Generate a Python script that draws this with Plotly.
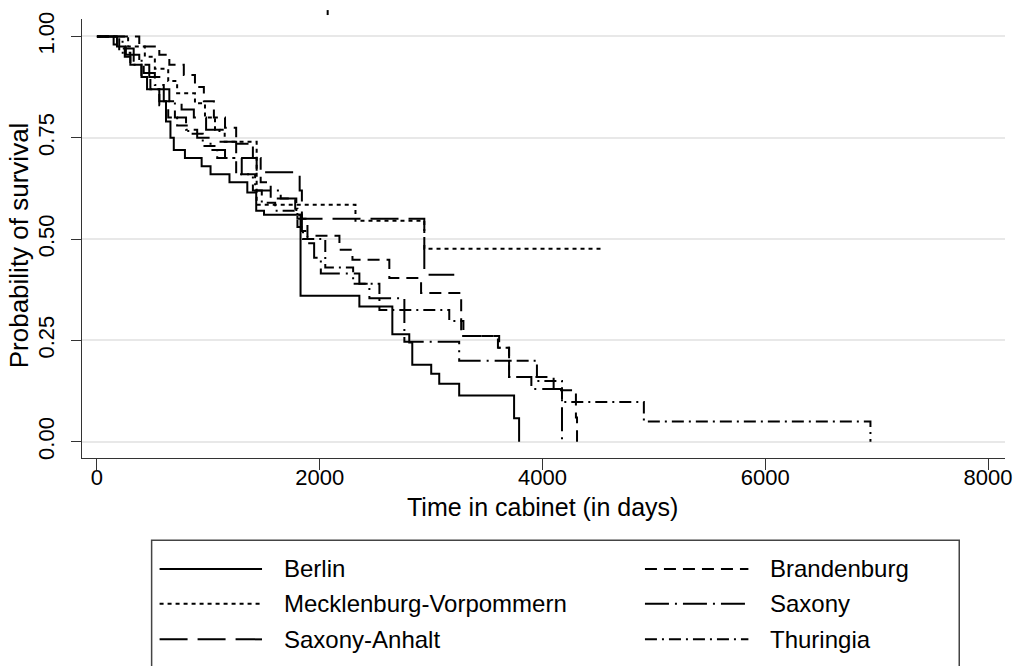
import plotly.graph_objects as go

# ---------------- data (Kaplan-Meier step estimates) ----------------
berlin_t = [0, 180, 250, 300, 400, 450, 560, 620, 660, 690, 790, 940, 1020, 1190, 1350, 1430, 1500,
            1828, 2356, 2652, 2804, 2831, 3001, 3073, 3252, 3745, 3790]
berlin_s = [1.0, 0.975, 0.95, 0.93, 0.90, 0.87, 0.84, 0.79, 0.75, 0.72, 0.70, 0.68, 0.66, 0.64, 0.615, 0.57, 0.56,
            0.36, 0.334, 0.265, 0.245, 0.19, 0.168, 0.143, 0.114, 0.058, 0.0]

brandenburg_t = [0, 380, 560, 650, 780, 880, 960, 1050, 1150, 1250, 1400, 1470, 1560, 1780, 1800,
                 1890, 2177, 2294, 2625, 2910, 3270, 3600, 3700, 4100, 4300, 4310]
brandenburg_s = [1.0, 0.975, 0.955, 0.93, 0.905, 0.875, 0.84, 0.80, 0.775, 0.735, 0.70, 0.64, 0.60, 0.575, 0.55,
                 0.508, 0.474, 0.449, 0.404, 0.367, 0.261, 0.232, 0.16, 0.127, 0.06, 0.0]

mecklenburg_t = [0, 280, 430, 520, 640, 720, 880, 970, 1060, 1147, 1434, 2321, 2939, 4552]
mecklenburg_s = [1.0, 0.975, 0.95, 0.92, 0.89, 0.86, 0.835, 0.80, 0.77, 0.74, 0.585, 0.545, 0.476, 0.476]

saxony_t = [0, 230, 330, 420, 520, 600, 700, 800, 900, 1020, 1150, 1300, 1400, 1650, 1790, 1840, 1890,
            1950, 2010, 2356, 2446, 2760, 3252, 3700, 3900, 4175]
saxony_s = [1.0, 0.97, 0.94, 0.91, 0.88, 0.84, 0.80, 0.77, 0.75, 0.72, 0.70, 0.66, 0.62, 0.60, 0.56, 0.52, 0.49,
            0.454, 0.415, 0.39, 0.354, 0.247, 0.20, 0.16, 0.13, 0.0]

anhalt_t = [0, 150, 260, 380, 470, 560, 650, 760, 870, 980, 1100, 1250, 1434, 1820, 1840, 2939, 3208]
anhalt_s = [1.0, 0.98, 0.955, 0.93, 0.90, 0.87, 0.84, 0.82, 0.80, 0.77, 0.74, 0.70, 0.665, 0.62, 0.55, 0.412, 0.412]

thuringia_t = [0, 200, 300, 400, 480, 560, 640, 720, 820, 950, 1080, 1250, 1420, 1480, 1600, 1800, 1850,
               2050, 2300, 2536, 3163, 3290, 3611, 3700, 3950, 4175, 4910, 6944]
thuringia_s = [1.0, 0.96, 0.93, 0.90, 0.87, 0.83, 0.80, 0.78, 0.76, 0.73, 0.70, 0.66, 0.62, 0.59, 0.57, 0.53, 0.50,
               0.43, 0.39, 0.325, 0.298, 0.261, 0.232, 0.20, 0.15, 0.098, 0.05, 0.0]

series_names = ["Berlin", "Brandenburg", "Mecklenburg-Vorpommern", "Saxony", "Saxony-Anhalt", "Thuringia"]
series_t = [berlin_t, brandenburg_t, mecklenburg_t, saxony_t, anhalt_t, thuringia_t]
series_s = [berlin_s, brandenburg_s, mecklenburg_s, saxony_s, anhalt_s, thuringia_s]

y_tickvals = [0, 0.25, 0.5, 0.75, 1.0]
y_ticktext = ["0.00", "0.25", "0.50", "0.75", "1.00"]
x_tickvals = [0, 2000, 4000, 6000, 8000]
x_ticktext = ["0", "2000", "4000", "6000", "8000"]

x_title = "Time in cabinet (in days)"
y_title = "Probability of survival"

# ---------------- styling ----------------
FONT = "Liberation Sans, Arial, Helvetica, sans-serif"
dashes = ["solid", "12px,7px", "4px,4px", "24px,6px,2px,6px", "28px,10px", "12px,5px,2px,5px"]

W, H = 1024, 666
L, R, T, B = 82, 1010, 15, 458  # plot area in pixels


def px_x(px):
    return (px - L) / (R - L)


def px_y(py):
    return (B - py) / (B - T)


fig = go.Figure()
for name, t, s, d in zip(series_names, series_t, series_s, dashes):
    fig.add_trace(go.Scatter(x=t, y=s, mode="lines", name=name, line_shape="hv",
                             line=dict(color="black", width=2, dash=d), showlegend=False))

fig.update_layout(
    width=W, height=H,
    margin=dict(l=L, r=W - R, t=T, b=H - B),
    paper_bgcolor="white", plot_bgcolor="white",
    font=dict(family=FONT, color="black"),
    xaxis=dict(range=[-134, 8152], tickvals=x_tickvals, ticktext=x_ticktext,
               showgrid=False, zeroline=False, showline=True, linecolor="#333", linewidth=1,
               ticks="outside", ticklen=11, tickcolor="#333", ticklabelstandoff=-11,
               tickfont=dict(size=22, family=FONT)),
    yaxis=dict(range=[-0.04, 1.043], tickvals=y_tickvals, ticktext=y_ticktext, tickangle=-90,
               showgrid=True, gridcolor="#e8e8e8", gridwidth=2, zeroline=False,
               showline=True, linecolor="#333", linewidth=1, ticklabelstandoff=8,
               ticks="outside", ticklen=10, tickcolor="#333", tickfont=dict(size=22, family=FONT)),
)

annotations = [
    dict(text=x_title, x=px_x(545), y=px_y(507), xref="paper", yref="paper",
         xanchor="center", yanchor="middle", showarrow=False, font=dict(size=25, family=FONT)),
    dict(text=y_title, x=px_x(19), y=px_y(243), xref="paper", yref="paper", textangle=-90,
         xanchor="center", yanchor="middle", showarrow=False, font=dict(size=26, family=FONT)),
]

shapes = [dict(type="rect", xref="paper", yref="paper", x0=px_x(152), x1=px_x(964),
               y0=px_y(541), y1=px_y(700), line=dict(color="#444", width=1.5), fillcolor="rgba(0,0,0,0)"),
          # small stray mark visible above the plot in the reference
          dict(type="line", xref="paper", yref="paper", x0=px_x(329), x1=px_x(329),
               y0=px_y(6), y1=px_y(11), line=dict(color="black", width=2))]

# custom legend (two columns, three rows)
rows_y = [570, 605, 641]
cols = [(160, 263, 283), (648, 752, 772)]
for i, (name, d) in enumerate(zip(series_names, dashes)):
    col = cols[i % 2]
    ry = rows_y[i // 2]
    shapes.append(dict(type="line", xref="paper", yref="paper", x0=px_x(col[0]), x1=px_x(col[1]),
                       y0=px_y(ry), y1=px_y(ry), line=dict(color="black", width=2, dash=d)))
    annotations.append(dict(text=name, x=px_x(col[2]), y=px_y(ry), xref="paper", yref="paper",
                            xanchor="left", yanchor="middle", showarrow=False,
                            font=dict(size=24, family=FONT)))

fig.update_layout(annotations=annotations, shapes=shapes)
fig.write_html("out.html")
